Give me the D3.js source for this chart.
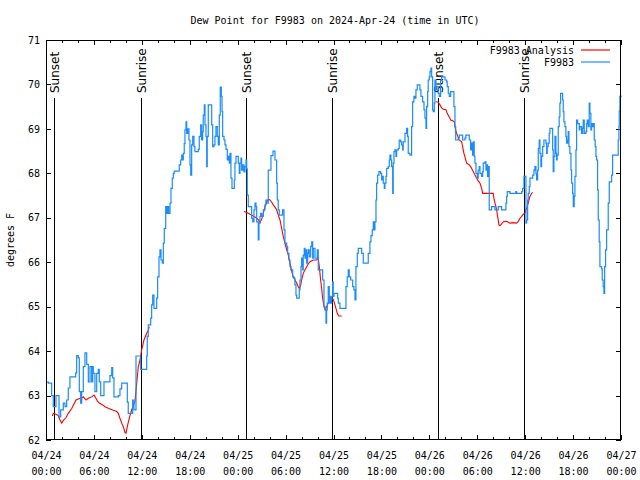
<!DOCTYPE html>
<html><head><meta charset="utf-8">
<script src="https://cdn.jsdelivr.net/npm/d3@7"></script>
<style>
body{margin:0;background:#fff;}
text{font-family:"DejaVu Sans Mono",monospace;font-size:10px;fill:#000;}
</style></head><body>
<svg id="c" width="640" height="480"></svg>
<script>
const title = "Dew Point for F9983 on 2024-Apr-24 (time in UTC)";
const yLabel = "degrees F";
const startTime = Date.UTC(2024, 3, 24, 0);
const endTime = Date.UTC(2024, 3, 27, 0);
const yTicks = [62,63,64,65,66,67,68,69,70,71];
const seriesNames = ["F9983 Analysis", "F9983"];

// hours since 2024-04-24 00:00 UTC
const sunEventHours = [1.00, 11.89, 25.10, 35.85, 49.12, 59.88];
const sunEventNames = ["Sunset","Sunrise","Sunset","Sunrise","Sunset","Sunrise"];

// observed series (F9983)
const obsHours = [0.00,0.29,0.71,0.91,1.06,1.25,1.50,1.63,1.84,2.17,2.38,2.59,2.79,3.00,3.63,3.72,3.84,4.04,4.17,4.34,4.47,4.67,4.88,5.10,5.30,5.51,5.72,5.85,5.92,6.13,6.35,6.55,6.67,6.85,7.10,7.26,7.89,8.01,8.23,8.35,8.51,9.05,9.26,9.48,10.02,10.18,10.30,10.73,10.85,11.02,11.27,11.77,11.86,12.52,12.61,12.68,12.81,13.11,13.23,13.36,13.52,13.77,13.86,13.98,14.15,14.27,14.40,14.56,14.69,14.81,14.99,15.11,15.24,15.36,15.53,15.65,15.81,15.94,16.06,16.56,16.69,16.86,16.99,17.11,17.19,17.31,17.40,17.53,17.62,17.74,17.90,18.03,18.12,18.24,18.37,18.53,18.65,19.07,19.19,19.37,19.49,19.62,19.69,19.82,19.91,20.03,20.12,20.19,20.32,20.62,20.75,20.87,21.03,21.16,21.28,21.45,21.57,21.70,21.82,21.95,22.04,22.12,22.29,22.41,22.54,22.70,22.82,22.95,23.04,23.16,23.29,23.45,23.58,23.66,23.79,23.95,24.08,24.20,24.29,24.41,24.50,24.63,24.79,24.91,25.04,25.13,25.20,25.33,25.54,25.75,25.88,26.04,26.17,26.29,26.38,26.58,26.67,26.79,26.88,27.00,27.21,27.42,27.54,27.63,27.83,28.04,28.17,28.42,28.67,28.88,28.96,29.08,29.21,29.51,29.63,29.80,29.92,30.14,30.26,30.42,30.55,30.67,30.89,31.05,31.17,31.30,31.39,31.59,31.71,31.80,31.93,32.01,32.14,32.21,32.34,32.43,32.55,32.64,32.76,32.84,32.97,33.14,33.27,33.39,33.47,33.68,33.97,34.09,34.52,34.64,34.81,34.93,35.06,35.14,35.22,35.34,35.47,35.56,35.68,35.77,35.89,35.97,36.06,36.40,36.52,36.60,36.81,37.43,37.56,37.72,37.85,37.97,38.15,38.40,38.56,38.69,38.81,38.98,39.10,39.40,39.53,39.73,40.23,40.35,40.56,40.69,40.85,40.98,41.10,41.19,41.32,41.40,41.53,41.69,41.90,42.03,42.16,42.23,42.36,42.44,42.57,42.66,42.86,42.98,43.07,43.19,43.28,43.41,43.48,43.57,43.69,43.82,43.91,44.11,44.23,44.41,44.53,44.66,44.73,44.95,45.16,45.28,45.36,45.57,45.78,45.91,46.07,46.20,46.32,46.49,46.74,46.82,46.95,47.16,47.33,47.45,47.58,47.66,47.79,47.86,47.99,48.08,48.20,48.29,48.41,48.49,48.62,48.70,48.83,48.91,49.11,49.24,49.41,49.54,49.83,49.96,50.17,50.24,50.37,50.49,50.67,50.99,51.08,51.21,51.30,51.62,51.75,52.05,52.17,52.46,52.58,52.87,53.00,53.17,53.30,53.42,53.50,53.62,53.71,53.84,54.00,54.12,54.25,54.34,54.55,54.68,54.75,54.96,55.09,55.18,55.30,55.38,55.50,55.80,56.21,56.63,57.05,57.47,57.59,57.68,57.76,58.09,58.72,58.84,58.93,59.56,59.68,59.85,59.97,60.10,60.18,60.31,60.38,60.51,60.60,60.81,60.94,61.10,61.22,61.35,61.43,61.56,61.64,61.76,61.85,61.97,62.06,62.19,62.35,62.60,62.69,62.76,62.88,63.01,63.10,63.31,63.44,63.51,63.60,63.73,63.85,63.94,64.01,64.14,64.26,64.35,64.44,64.56,64.69,64.77,64.85,64.98,65.10,65.19,65.32,65.39,65.48,65.60,65.73,65.82,65.94,66.02,66.14,66.23,66.36,66.44,66.57,66.77,66.86,67.07,67.20,67.27,67.40,67.61,67.70,67.77,67.90,68.02,68.11,68.23,68.32,68.45,68.52,68.65,68.77,68.86,68.95,69.07,69.15,69.27,69.36,69.57,69.65,69.77,69.86,69.95,70.07,70.20,70.40,70.53,70.70,70.83,70.95,71.53,71.65,71.74,71.78,71.86,71.99];
const obsValues = [63.30,63.28,63.00,62.75,62.75,63.00,63.00,62.52,62.68,62.83,62.75,62.90,63.17,63.42,63.42,63.51,63.90,63.85,63.09,62.83,63.09,63.65,63.96,63.70,63.31,63.65,63.31,63.65,63.50,63.09,63.50,63.59,63.31,63.00,63.00,63.31,63.31,63.45,63.63,63.40,62.97,63.00,63.15,63.28,63.28,62.85,62.60,62.60,62.90,62.68,63.89,63.89,63.59,63.59,63.89,64.33,64.59,64.74,65.04,65.26,64.96,64.96,65.19,65.67,66.12,66.28,66.05,65.98,66.43,66.76,67.25,67.10,67.25,67.10,67.33,67.66,67.89,68.00,68.05,68.05,68.19,68.30,68.41,68.30,68.45,68.67,68.98,69.16,68.90,69.00,68.75,68.19,67.96,68.64,68.83,68.60,68.49,68.54,68.83,69.09,68.75,68.94,69.31,69.54,69.09,68.83,68.15,68.83,69.54,69.54,69.09,68.60,68.64,68.83,69.05,68.83,68.64,69.31,69.94,69.73,69.39,68.83,68.75,68.64,68.54,68.30,68.38,68.23,68.45,67.89,67.66,67.66,67.85,68.23,68.38,68.38,68.23,68.00,68.23,68.34,68.07,68.19,68.03,68.15,68.30,68.10,67.51,67.25,67.25,66.99,66.91,67.18,67.33,67.25,66.91,66.50,66.88,67.03,67.10,67.03,67.18,67.29,67.40,67.33,68.07,68.07,68.40,68.50,68.30,67.78,67.40,67.18,67.06,67.06,67.18,66.73,66.43,66.35,66.20,66.05,65.90,65.83,65.67,65.64,65.49,65.26,65.19,65.19,65.38,65.60,65.90,66.09,65.83,66.16,66.31,66.09,66.28,65.98,66.20,66.28,66.12,66.35,66.46,66.09,66.31,66.09,66.28,65.83,65.83,65.60,65.00,64.93,64.63,64.93,65.08,65.45,65.08,65.23,65.08,65.23,65.56,65.23,65.30,65.30,65.19,65.08,64.96,64.96,65.45,65.67,65.83,65.67,65.60,65.45,65.38,65.15,65.90,66.20,66.31,66.31,66.20,65.98,65.98,66.20,66.46,66.60,66.73,66.91,66.73,66.91,67.40,67.78,67.96,68.04,68.00,67.85,67.93,67.78,67.66,67.78,67.93,68.11,68.15,68.30,68.41,68.30,68.15,67.55,68.23,68.49,68.53,68.38,68.53,68.56,68.75,68.71,68.64,68.53,68.71,68.90,69.01,68.83,68.45,68.41,69.05,69.61,69.73,69.69,69.88,69.99,69.99,69.88,69.73,69.61,69.43,69.24,69.01,69.50,69.84,70.10,70.17,70.29,70.37,70.17,69.43,69.39,69.58,70.10,69.88,69.95,69.80,69.73,70.10,70.17,70.17,70.10,70.06,69.95,69.80,69.73,69.84,69.84,69.50,69.05,68.75,68.79,68.86,68.86,68.75,68.79,68.86,68.86,68.75,68.53,68.68,68.41,68.71,68.38,68.23,68.00,67.89,68.07,68.15,68.00,67.93,68.04,68.23,68.26,68.07,68.19,67.93,68.15,67.18,67.25,67.18,67.25,67.18,67.18,67.33,67.48,67.59,67.55,67.55,67.59,67.55,67.59,67.66,67.93,67.93,66.88,66.95,67.40,67.55,67.70,67.89,67.89,67.96,68.07,68.15,68.00,67.85,68.07,68.56,68.75,68.45,68.15,68.38,68.60,68.75,68.68,68.45,68.60,68.68,68.90,69.01,69.01,68.53,68.04,68.38,68.83,68.45,68.30,68.41,69.05,69.27,69.58,69.80,69.80,69.65,69.39,69.16,69.05,68.83,68.68,68.75,68.94,68.60,68.45,68.07,67.78,67.55,67.25,67.48,67.93,68.53,69.20,69.12,68.98,69.05,68.90,69.01,69.20,68.90,68.94,69.12,69.20,69.05,69.58,69.35,68.98,69.12,69.05,69.12,68.75,68.60,68.38,68.30,67.63,66.95,66.46,65.90,65.85,65.60,65.45,65.30,65.90,66.28,66.73,67.33,67.81,67.81,67.96,68.41,68.41,68.75,69.05,69.40,69.73,69.75];

// analysis series (F9983 Analysis), three runs
const anaHours1 = [0.79,0.91,1.25,1.54,1.75,1.97,2.17,2.50,2.79,3.22,3.42,3.76,4.26,4.47,4.67,5.01,5.30,5.72,6.01,6.26,6.42,6.67,7.10,7.39,7.60,8.01,8.43,8.85,9.05,9.26,9.48,9.68,9.89,10.02,10.18,10.43,10.73,11.14,11.36,11.56,11.77,11.98,12.27,12.61,12.81,12.93];
const anaValues1 = [62.54,62.60,62.58,62.55,62.45,62.38,62.44,62.50,62.60,62.71,62.78,62.90,62.94,62.94,62.97,62.90,62.94,62.97,63.01,62.94,62.88,62.83,62.79,62.75,62.73,62.70,62.67,62.64,62.60,62.49,62.38,62.30,62.17,62.15,62.30,62.49,62.68,62.87,63.28,63.65,63.80,64.03,64.25,64.40,64.47,64.55];
const anaHours2 = [24.79,25.13,25.33,25.54,25.75,25.96,26.17,26.38,26.58,26.79,27.00,27.21,27.42,27.63,27.83,28.04,28.26,28.46,28.67,28.88,29.08,29.30,29.51,29.71,29.92,30.14,30.34,30.46,30.64,30.76,30.96,31.17,31.39,31.59,31.71,31.89,32.01,32.21,32.43,32.64,32.84,33.05,33.47,33.89,34.09,34.22,34.39,34.52,34.64,34.81,34.97,35.14,35.34,35.47,35.64,35.89,36.06,36.18,36.31,36.47,36.65,37.03];
const anaValues2 = [67.14,67.12,67.10,67.08,67.06,67.04,67.02,66.99,66.96,66.89,66.96,67.10,67.25,67.36,67.42,67.40,67.35,67.29,67.24,67.18,67.06,66.95,66.76,66.58,66.43,66.28,66.16,66.05,65.90,65.80,65.67,65.60,65.53,65.45,65.41,65.48,65.60,65.75,65.83,65.90,65.96,66.01,66.05,66.05,66.09,65.90,65.60,65.41,65.19,65.00,64.93,65.00,65.08,65.13,65.15,65.19,65.12,65.04,64.96,64.85,64.79,64.79];
const anaHours3 = [48.83,49.11,49.33,49.54,49.75,50.08,50.24,50.49,50.67,50.99,51.12,51.21,51.34,51.50,51.75,52.05,52.17,52.33,52.50,52.67,53.00,53.17,53.30,53.50,53.71,53.93,54.12,54.34,54.55,54.68,56.00,56.12,56.34,56.42,56.55,56.72,56.84,57.05,57.26,57.68,57.88,58.09,58.51,58.93,59.14,59.35,59.56,59.77,59.97,60.10,60.26,60.38,60.60,60.81,60.94];
const anaValues3 = [69.61,69.60,69.54,69.47,69.44,69.43,69.35,69.27,69.20,69.18,69.16,69.05,68.94,68.86,68.75,68.71,68.60,68.45,68.34,68.23,68.19,68.15,68.11,68.04,67.96,67.89,67.83,67.78,67.66,67.55,67.55,67.40,67.25,67.18,67.03,66.84,66.82,66.86,66.91,66.92,66.90,66.88,66.89,66.88,66.92,66.99,67.03,67.08,67.10,67.18,67.25,67.33,67.48,67.55,67.57];

const colors = {analysis:"#ff0000", obs:"#1a8cff"};

const svg = d3.select("#c");
const W = 640, H = 480;
const m = {left:46, right:621, top:40, bottom:440};
const toDate = h => new Date(startTime + h*3600000);

const x = d3.scaleUtc().domain([new Date(startTime), new Date(endTime)]).range([m.left, m.right]);
const y = d3.scaleLinear().domain([62,71]).range([m.bottom, m.top]);

svg.append("rect").attr("width",W).attr("height",H).attr("fill","#fff");

// title
svg.append("text").attr("x",335).attr("y",24).attr("text-anchor","middle").text(title);
// y label
svg.append("text").attr("transform","translate(14,240) rotate(-90)").attr("text-anchor","middle").text(yLabel);

// axes
const majorT = d3.utcHour.every(6).range(new Date(startTime), new Date(endTime+1));
const minorT = d3.utcHour.every(2).range(new Date(startTime), new Date(endTime+1)).filter(d => d.getUTCHours()%6 !== 0);

const gxb = svg.append("g").attr("transform",`translate(0,${m.bottom})`)
  .call(d3.axisBottom(x).tickValues(majorT).tickSizeInner(-5).tickSizeOuter(0).tickPadding(15).tickFormat(d3.utcFormat("%m/%d")));
gxb.selectAll(".tick text").each(function(d){
  const t = d3.select(this);
  t.text(null);
  t.append("tspan").attr("x",0).attr("dy","0.35em").text(d3.utcFormat("%m/%d")(d));
  t.append("tspan").attr("x",0).attr("dy","16").text(d3.utcFormat("%H:%M")(d));
});
svg.append("g").attr("transform",`translate(0,${m.bottom})`)
  .call(d3.axisBottom(x).tickValues(minorT).tickSizeInner(-3).tickSizeOuter(0).tickFormat(""));
svg.append("g").attr("transform",`translate(0,${m.top})`)
  .call(d3.axisTop(x).tickValues(majorT).tickSizeInner(-5).tickSizeOuter(0).tickFormat(""));
svg.append("g").attr("transform",`translate(0,${m.top})`)
  .call(d3.axisTop(x).tickValues(minorT).tickSizeInner(-3).tickSizeOuter(0).tickFormat(""));

svg.append("g").attr("transform",`translate(${m.left},0)`)
  .call(d3.axisLeft(y).tickValues(yTicks).tickSizeInner(-5).tickSizeOuter(0).tickPadding(6).tickFormat(d3.format("d")));
svg.append("g").attr("transform",`translate(${m.right},0)`)
  .call(d3.axisRight(y).tickValues(yTicks).tickSizeInner(-5).tickSizeOuter(0).tickFormat(""));

svg.selectAll(".domain").remove();
svg.selectAll(".tick line").attr("stroke","#000").attr("shape-rendering","crispEdges");
svg.selectAll(".tick text").attr("font-family",null).attr("font-size",null).attr("fill","#000");

// sun event lines
const sun = svg.append("g");
sunEventHours.forEach((h,i) => {
  const sx = Math.round(x(toDate(h))) + 0.5;
  sun.append("line").attr("x1",sx).attr("x2",sx).attr("y1",98).attr("y2",m.bottom)
    .attr("stroke","#000").attr("stroke-width",1.2).attr("shape-rendering","crispEdges");
  sun.append("text").attr("transform",`translate(${sx+4},93) rotate(-90)`)
    .attr("text-anchor","start").style("font-family","'DejaVu Sans',sans-serif").style("font-size","12px")
    .text(sunEventNames[i]);
});

// lines
const lineObs = d3.line().x(d=>x(toDate(d[0]))).y(d=>y(d[1])).curve(d3.curveStepAfter);
const lineAna = d3.line().x(d=>x(toDate(d[0]))).y(d=>y(d[1]));
const anaRuns = [[anaHours1,anaValues1],[anaHours2,anaValues2],[anaHours3,anaValues3]];
anaRuns.forEach(([hs,vs]) => {
  svg.append("path").datum(hs.map((h,i)=>[h,vs[i]])).attr("d",lineAna)
    .attr("fill","none").attr("stroke",colors.analysis).attr("stroke-width",1.1);
});
svg.append("path").datum(obsHours.map((h,i)=>[h,obsValues[i]])).attr("d",lineObs)
  .attr("fill","none").attr("stroke",colors.obs).attr("stroke-width",1.2);

// frame
svg.append("rect").attr("x",m.left+0.5).attr("y",m.top+0.5).attr("width",m.right-m.left-1).attr("height",m.bottom-m.top-1)
  .attr("fill","none").attr("stroke","#000").attr("stroke-width",1.5).attr("shape-rendering","crispEdges");

// legend
const leg = svg.append("g");
[[seriesNames[0],colors.analysis,50],[seriesNames[1],colors.obs,62]].forEach(([name,c,ly]) => {
  leg.append("text").attr("x",574).attr("y",ly).attr("dy","0.35em").attr("text-anchor","end").text(name);
  leg.append("line").attr("x1",581).attr("x2",610).attr("y1",ly).attr("y2",ly).attr("stroke",c).attr("stroke-width",1.2);
});
</script></body></html>
